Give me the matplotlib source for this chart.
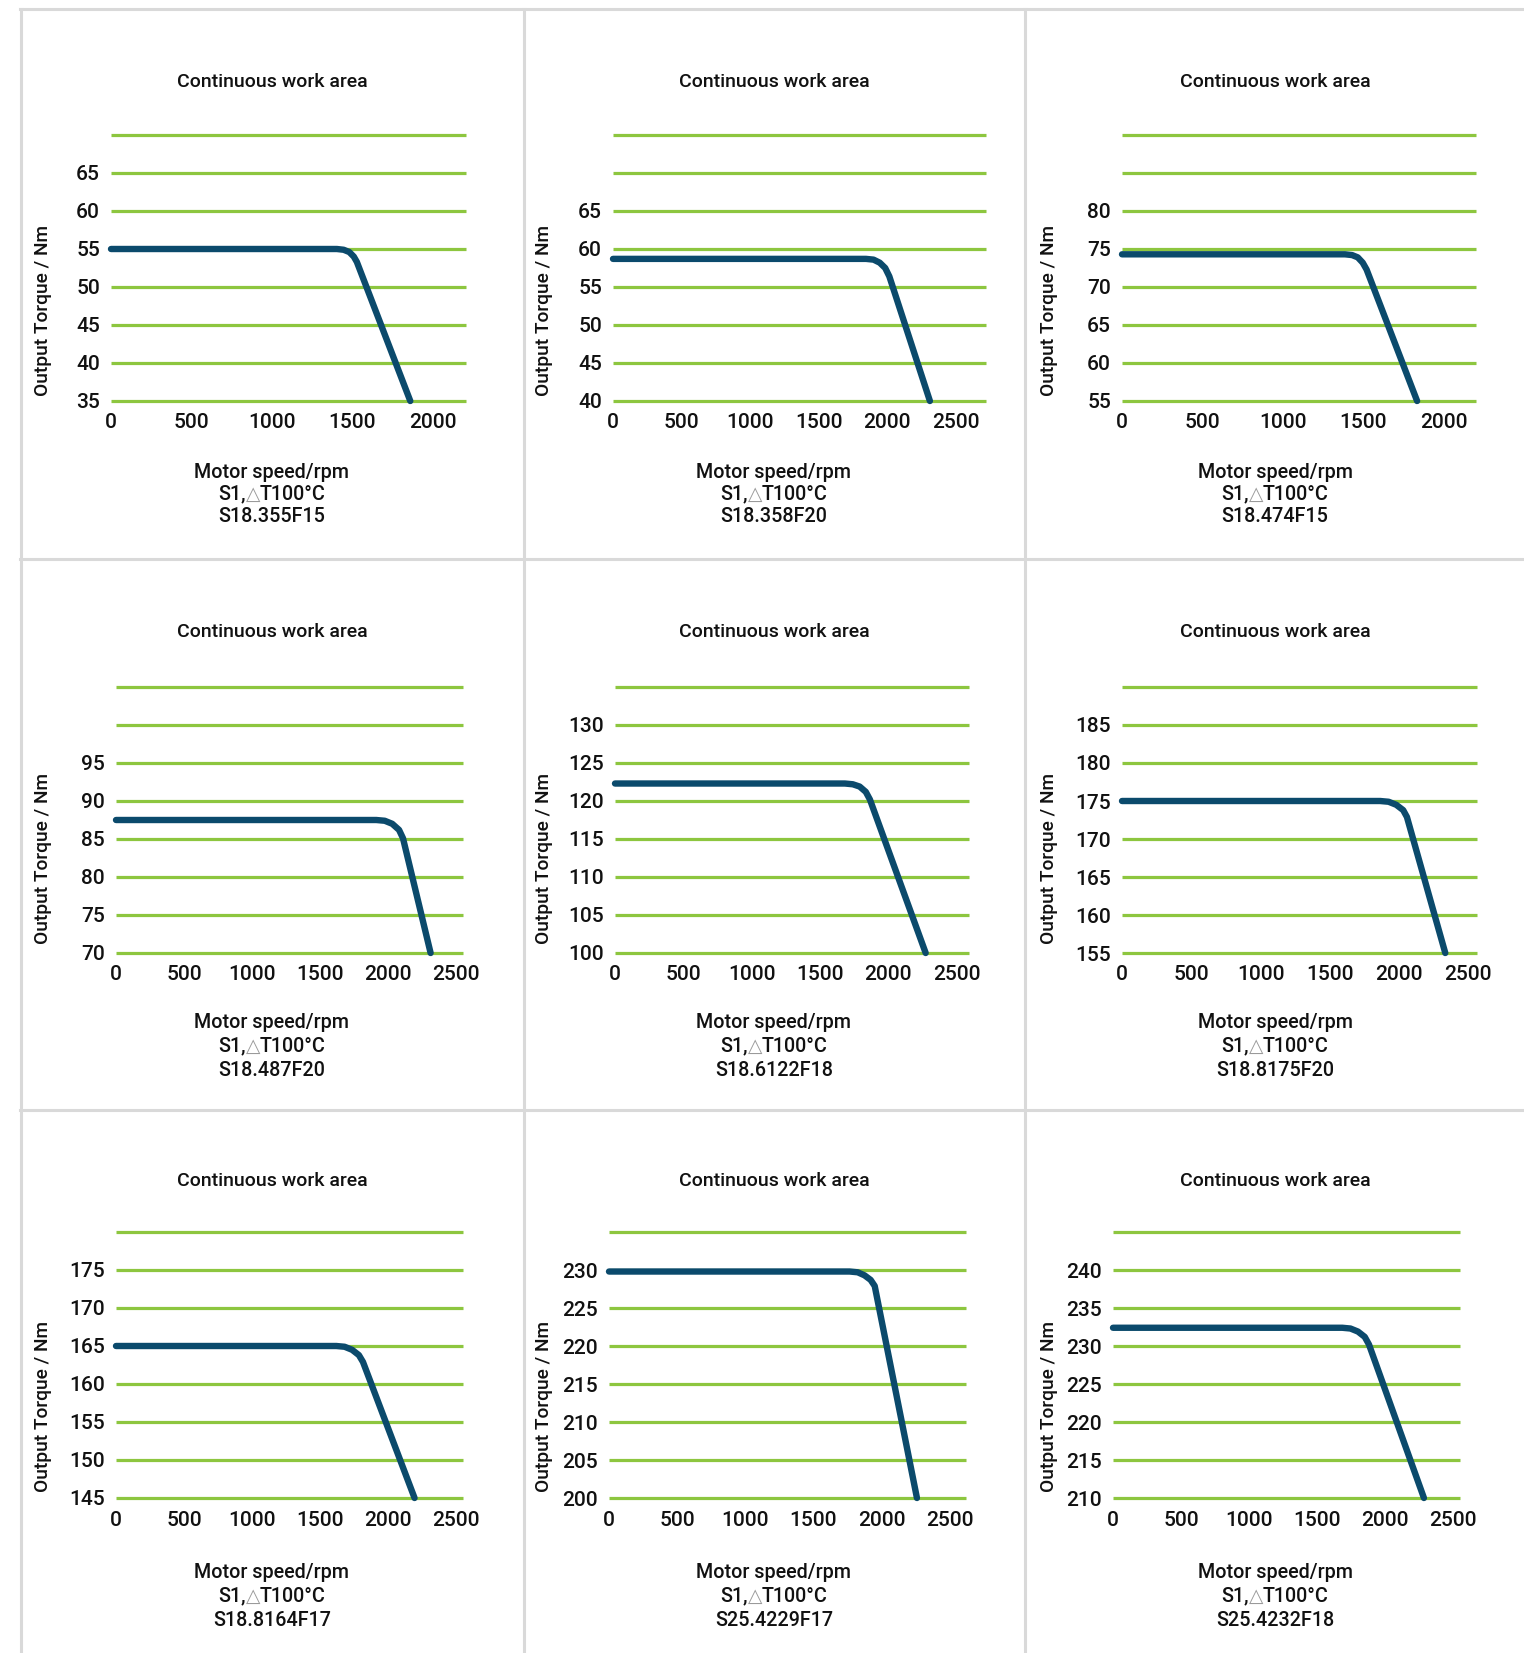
import matplotlib.pyplot as plt
from matplotlib.lines import Line2D
import numpy as np

plt.rcParams["font.family"] = ["Roboto", "DejaVu Sans"]
plt.rcParams["font.weight"] = "medium"

W, H = 1524, 1653

models = [
    "S18.355F15", "S18.358F20", "S18.474F15",
    "S18.487F20", "S18.6122F18", "S18.8175F20",
    "S18.8164F17", "S25.4229F17", "S25.4232F18",
]

# speed (rpm) / torque (Nm) for each motor, knee points included
speed_355 = [0, 1403, 1445, 1480, 1508, 1527, 1859]
torque_355 = [55, 55, 54.9, 54.6, 54.0, 53.3, 35]

speed_358 = [0, 1845, 1900, 1945, 1985, 2015, 2311]
torque_358 = [58.7, 58.7, 58.6, 58.2, 57.5, 56.4, 40]

speed_474 = [0, 1386, 1430, 1465, 1496, 1520, 1834]
torque_474 = [74.3, 74.3, 74.2, 73.9, 73.2, 72.3, 55]

speed_487 = [0, 1913, 1975, 2030, 2080, 2109, 2312]
torque_487 = [87.5, 87.5, 87.4, 87.0, 86.2, 85.1, 70]

speed_6122 = [0, 1682, 1740, 1790, 1835, 1865, 2273]
torque_6122 = [122.3, 122.3, 122.2, 121.9, 121.2, 120.2, 100]

speed_8175 = [0, 1864, 1925, 1980, 2030, 2057, 2334]
torque_8175 = [175, 175, 174.9, 174.5, 173.8, 172.9, 155]

speed_8164 = [0, 1619, 1680, 1735, 1785, 1815, 2194]
torque_8164 = [165, 165, 164.9, 164.5, 163.8, 162.9, 145]

speed_4229 = [0, 1766, 1825, 1875, 1920, 1950, 2260]
torque_4229 = [229.8, 229.8, 229.7, 229.3, 228.7, 227.9, 200]

speed_4232 = [0, 1685, 1745, 1800, 1850, 1881, 2285]
torque_4232 = [232.4, 232.4, 232.3, 231.9, 231.2, 230.2, 210]

speeds = [speed_355, speed_358, speed_474, speed_487, speed_6122,
          speed_8175, speed_8164, speed_4229, speed_4232]
torques = [torque_355, torque_358, torque_474, torque_487, torque_6122,
           torque_8175, torque_8164, torque_4229, torque_4232]

# torque axis: bottom, top grid line, last labelled tick
y_low = [35, 40, 55, 70, 100, 155, 145, 200, 210]
y_top = [70, 75, 90, 105, 135, 190, 180, 235, 245]
y_label_top = [65, 65, 80, 95, 130, 185, 175, 230, 240]

# speed axis: right limit, last labelled tick
x_right = [2205, 2720, 2200, 2550, 2590, 2563, 2550, 2620, 2550]
x_label_top = [2000, 2500, 2000, 2500, 2500, 2500, 2500, 2500, 2500]

GREEN = "#8dc63f"
BLUE = "#0b4a6c"
BORDER = "#d9d9d9"
INK = "#111111"

# plot boxes in pixels (left, right) per panel, (top, bottom) per row
box_x = [(111, 466), (613, 986), (1122, 1476),
         (116, 463), (615, 969), (1122, 1477),
         (116, 463), (609, 966), (1113, 1460)]
row_y = [(135, 401), (687, 953), (1232, 1498)]
cell_center = [272, 774, 1275]
ylabel_x = [43, 544, 1049]
ylabel_y = [310, 859, 1406]
title_y = [82, 632, 1181]
xlab_y = [(472, 494, 517), (1023, 1046, 1070), (1573, 1596, 1620)]

fig = plt.figure(figsize=(W / 100, H / 100), dpi=100)
fig.patch.set_facecolor("white")


def fx(px):
    return px / W


def fy(py):
    return 1 - py / H


# cell borders
fig.add_artist(Line2D([fx(20), 1], [fy(9), fy(9)], color=BORDER, lw=2.2))
for yy in (559, 1110):
    fig.add_artist(Line2D([fx(20), 1], [fy(yy), fy(yy)], color=BORDER, lw=2.2))
for xx in (21, 524, 1025):
    fig.add_artist(Line2D([fx(xx), fx(xx)], [fy(9), 0], color=BORDER, lw=2.2))

triangle_parts = []

for i in range(9):
    r, c = divmod(i, 3)
    left, right = box_x[i]
    top, bottom = row_y[r]
    ax = fig.add_axes([fx(left), fy(bottom), (right - left) / W, (bottom - top) / H])
    ax.set_xlim(0, x_right[i])
    ax.set_ylim(y_low[i], y_top[i])

    grid = np.arange(y_low[i], y_top[i] + 1, 5)
    ax.hlines(grid, 0, x_right[i], colors=GREEN, lw=2.3, clip_on=False, zorder=1)
    ax.plot(speeds[i], torques[i], color=BLUE, lw=4.6, solid_capstyle="round",
            solid_joinstyle="round", clip_on=False, zorder=3)

    ax.set_yticks(np.arange(y_low[i], y_label_top[i] + 1, 5))
    ax.set_xticks(np.arange(0, x_label_top[i] + 1, 500))
    ax.tick_params(length=0, labelsize=15, colors=INK)
    ax.tick_params(axis="y", pad=8)
    ax.tick_params(axis="x", pad=9)
    for s in ax.spines.values():
        s.set_visible(False)
    ax.patch.set_alpha(0)

    fig.text(fx(cell_center[c]), fy(title_y[r]), "Continuous work area",
             ha="center", va="center", fontsize=14, color=INK)
    fig.text(fx(ylabel_x[c]), fy(ylabel_y[r]), "Output Torque / Nm", rotation=90,
             ha="center", va="center", fontsize=13.8, color=INK)
    ly = xlab_y[r]
    fig.text(fx(cell_center[c]), fy(ly[0]), "Motor speed/rpm",
             ha="center", va="center", fontsize=14.2, color=INK)
    fig.text(fx(cell_center[c]), fy(ly[2]), models[i],
             ha="center", va="center", fontsize=14.2, color=INK)

    parts = [
        fig.text(0, fy(ly[1]), "S1,", ha="left", va="center", fontsize=14.2, color=INK),
        fig.text(0, fy(ly[1]), "\u25b3", ha="left", va="center", fontsize=13.5,
                 color="#9a9a9a", family="DejaVu Sans", fontweight="normal"),
        fig.text(0, fy(ly[1]), "T100°C", ha="left", va="center", fontsize=14.2, color=INK),
    ]
    triangle_parts.append((cell_center[c], parts))

# centre the three-piece "S1,△T100°C" line in each cell
fig.canvas.draw()
rend = fig.canvas.get_renderer()
for xc, parts in triangle_parts:
    widths = [p.get_window_extent(rend).width for p in parts]
    x0 = xc - sum(widths) / 2
    for p, w in zip(parts, widths):
        p.set_x(fx(x0))
        x0 += w

fig.savefig("out.png", dpi=100, facecolor="white")
